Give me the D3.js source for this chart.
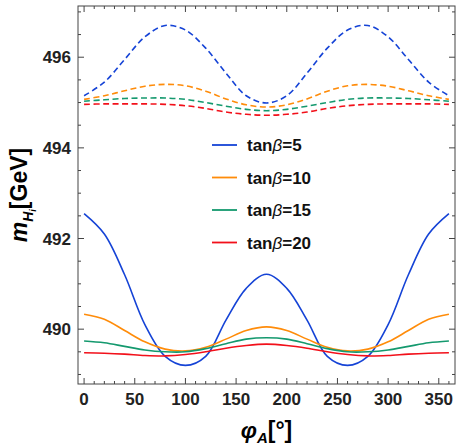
<!DOCTYPE html>
<html><head><meta charset="utf-8">
<script src="https://cdn.jsdelivr.net/npm/d3@7"></script>
<style>body{margin:0;background:#fff}text{font-family:"Liberation Sans",Arial,sans-serif;font-weight:bold}</style>
</head><body><div id="chart"></div>
<script>
// angles in degrees
var phi = [0,20,40,60,80,100,120,140,160,180,200,220,240,260,280,300,320,340,360];
var labels = ['tanβ=5','tanβ=10','tanβ=15','tanβ=20'];
var colors = ['#1543d6','#ff8c0a','#14996e','#f2101a'];
// dashed (upper) curves
var up5  = [495.15,495.45,495.95,496.45,496.70,496.60,496.20,495.65,495.15,494.99,495.15,495.65,496.20,496.60,496.70,496.45,495.95,495.45,495.15];
var up10 = [495.07,495.15,495.26,495.36,495.40,495.37,495.25,495.08,494.95,494.90,494.95,495.08,495.25,495.37,495.40,495.36,495.26,495.15,495.07];
var up15 = [495.03,495.06,495.09,495.10,495.10,495.07,495.00,494.92,494.85,494.82,494.85,494.92,495.00,495.07,495.10,495.10,495.09,495.06,495.03];
var up20 = [494.96,494.97,494.97,494.97,494.96,494.93,494.87,494.79,494.74,494.72,494.74,494.79,494.87,494.93,494.96,494.97,494.97,494.97,494.96];
// solid (lower) curves
var lo5  = [492.55,492.10,491.20,490.10,489.40,489.20,489.40,490.20,490.90,491.21,490.90,490.20,489.40,489.20,489.40,490.10,491.20,492.10,492.55];
var lo10 = [490.33,490.22,489.97,489.72,489.56,489.52,489.60,489.78,489.97,490.05,489.97,489.78,489.60,489.52,489.56,489.72,489.97,490.22,490.33];
var lo15 = [489.74,489.70,489.62,489.54,489.50,489.50,489.57,489.68,489.78,489.81,489.78,489.68,489.57,489.50,489.50,489.54,489.62,489.70,489.74];
var lo20 = [489.48,489.47,489.45,489.42,489.41,489.44,489.50,489.58,489.64,489.67,489.64,489.58,489.50,489.44,489.41,489.42,489.45,489.47,489.48];
var upper = [up5, up10, up15, up20];
var lower = [lo5, lo10, lo15, lo20];
var xTicks = [0,50,100,150,200,250,300,350];
var yTicks = [490,492,494,496];

var W = 462, H = 447;
var L = 78, R = 455, T = 6, B = 384;
var svg = d3.select('#chart').append('svg').attr('width', W).attr('height', H);

var x = d3.scaleLinear().domain([-6, 366]).range([L, R]);
var y = d3.scaleLinear().domain([488.79, 497.13]).range([B, T]);

var line = d3.line().curve(d3.curveCatmullRom);

function drawSeries(arr, i, dashed) {
  svg.append('path')
    .attr('d', line(phi.map(function(p, k){ return [x(p), y(arr[k])]; })))
    .attr('fill', 'none').attr('stroke', colors[i]).attr('stroke-width', 1.6)
    .attr('stroke-dasharray', dashed ? '6,3.5' : null);
}
upper.forEach(function(a, i){ drawSeries(a, i, true); });
lower.forEach(function(a, i){ drawSeries(a, i, false); });

// frame and ticks, inward on all sides
var ax = svg.append('g').attr('stroke', '#444').attr('stroke-width', 1);
ax.append('rect').attr('x', L).attr('y', T).attr('width', R - L).attr('height', B - T).attr('fill', 'none');
d3.range(0, 361, 10).forEach(function(v){
  var len = v % 50 === 0 ? 6 : 3;
  ax.append('line').attr('x1', x(v)).attr('x2', x(v)).attr('y1', B).attr('y2', B - len);
  ax.append('line').attr('x1', x(v)).attr('x2', x(v)).attr('y1', T).attr('y2', T + len);
});
d3.range(489, 497.01, 0.5).forEach(function(v){
  var len = v % 2 === 0 ? 6 : 3;
  ax.append('line').attr('y1', y(v)).attr('y2', y(v)).attr('x1', L).attr('x2', L + len);
  ax.append('line').attr('y1', y(v)).attr('y2', y(v)).attr('x1', R).attr('x2', R - len);
});

svg.selectAll('.xt').data(xTicks).enter().append('text')
  .attr('x', function(d){ return x(d); }).attr('y', 405)
  .attr('text-anchor', 'middle').attr('font-size', 17).attr('fill', '#222').text(function(d){ return d; });
svg.selectAll('.yt').data(yTicks).enter().append('text')
  .attr('x', 71).attr('y', function(d){ return y(d) + 6; })
  .attr('text-anchor', 'end').attr('font-size', 17).attr('fill', '#222').text(function(d){ return d; });

// axis titles
var yl = svg.append('text').attr('transform', 'translate(27,' + ((T + B) / 2) + ') rotate(-90)')
  .attr('text-anchor', 'middle').attr('font-size', 23);
yl.append('tspan').attr('font-style', 'italic').text('m');
yl.append('tspan').attr('font-style', 'italic').attr('font-size', 14).attr('dy', 6).text('H');
yl.append('tspan').attr('font-style', 'italic').attr('font-size', 9).attr('dy', 3).text('i');
yl.append('tspan').attr('dy', -9).text('[GeV]');

var xl = svg.append('text').attr('x', x(180)).attr('y', 438).attr('text-anchor', 'middle').attr('font-size', 23);
xl.append('tspan').attr('font-style', 'italic').text('φ');
xl.append('tspan').attr('font-style', 'italic').attr('font-size', 15).attr('dy', 5).text('A');
xl.append('tspan').attr('dy', -5).text('[°]');

// legend
var lg = svg.selectAll('.lg').data(labels).enter().append('g')
  .attr('transform', function(d, i){ return 'translate(212,' + (145 + i * 32.5) + ')'; });
lg.append('line').attr('x1', 0).attr('x2', 25).attr('stroke-width', 1.8)
  .attr('stroke', function(d, i){ return colors[i]; });
lg.append('text').attr('x', 35).attr('y', 6).attr('font-size', 17).attr('fill', '#111')
  .each(function(d){
    var t = d3.select(this);
    t.append('tspan').text('tan');
    t.append('tspan').attr('font-style', 'italic').attr('font-weight', 'normal').text('β');
    t.append('tspan').text(d.slice(4));
  });
</script></body></html>
